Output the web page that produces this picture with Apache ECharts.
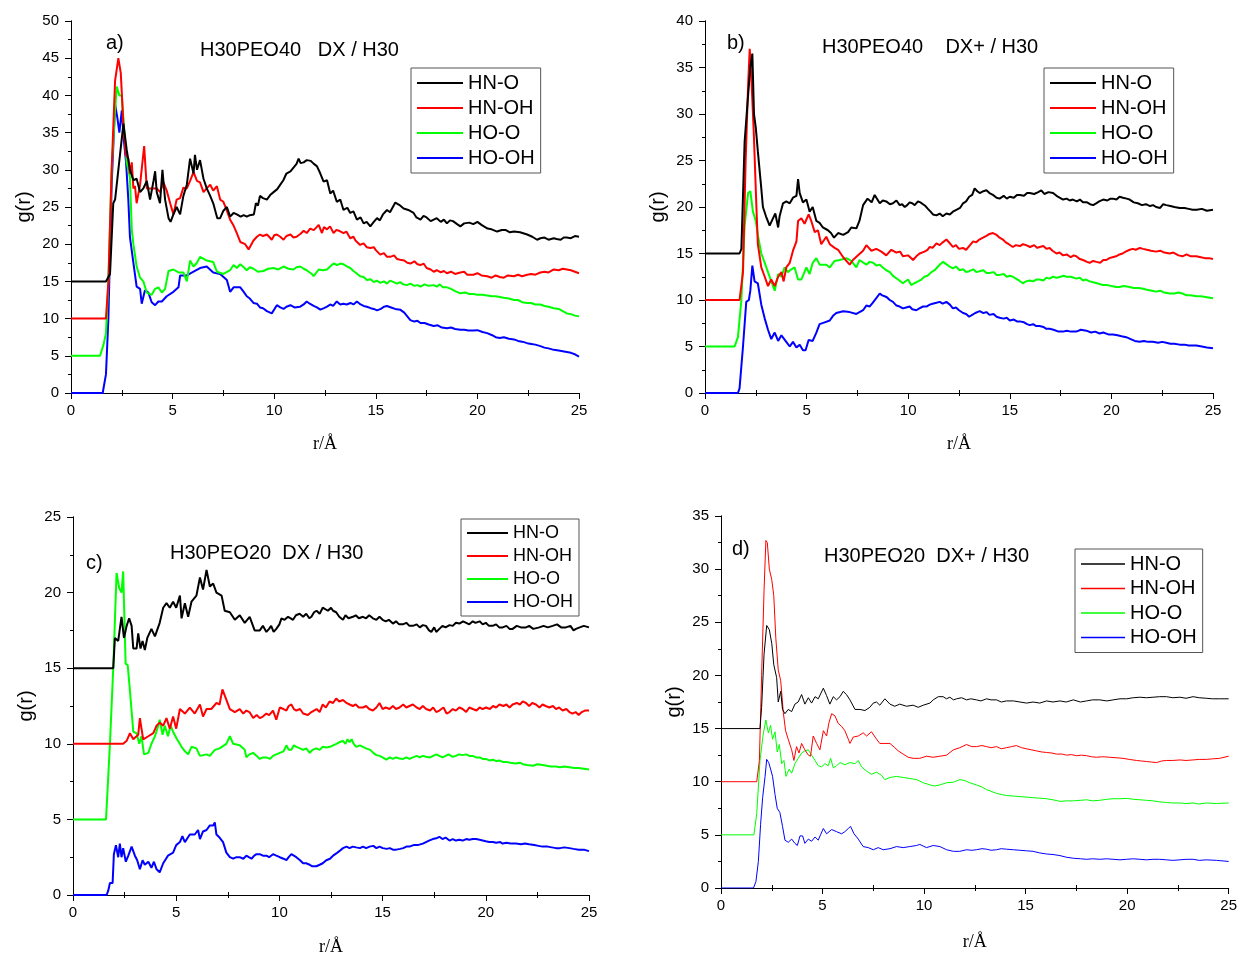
<!DOCTYPE html>
<html>
<head>
<meta charset="utf-8">
<script src="https://cdn.jsdelivr.net/npm/echarts@6/dist/echarts.min.js"></script>
<style>
html,body{margin:0;padding:0;background:#fff}
#main{width:1240px;height:957px}
</style>
</head>
<body>
<div id="main"></div>
<script>
// names / colours shared by every panel
var pairNames = ['HN-O', 'HN-OH', 'HO-O', 'HO-OH'];
var lineColors = ['#000000', '#ff0000', '#00ff00', '#0000ff'];
var panelTags = ['a)', 'b)', 'c)', 'd)'];
var panelTitles = ['H30PEO40   DX / H30', 'H30PEO40    DX+ / H30', 'H30PEO20  DX / H30', 'H30PEO20  DX+ / H30'];
var yMax = [50, 40, 25, 35];
var xMax = 25;

// a) H30PEO40 DX / H30   [r, g(r)]
var aHNO = [[0,15],[1.72,15],[1.92,16],[2.08,25.5],[2.17,26],[2.33,30],[2.58,36.2],[2.74,32.7],[2.9,30],[3.07,28.6],[3.23,28.8],[3.4,27],[3.56,27.5],[3.73,28.5],[3.89,26],[4.06,28.5],[4.14,29.8],[4.22,27],[4.38,25.5],[4.5,30],[4.63,26],[4.8,23.5],[4.9,23],[5.04,24],[5.2,25],[5.37,24],[5.53,26.5],[5.7,28],[5.86,31.5],[6.03,29.5],[6.1,32],[6.2,30],[6.35,31.3],[6.52,28.8],[6.68,27.5],[6.85,26.5],[7.0,25.5],[7.2,23.5],[7.34,23.5],[7.5,24.5],[7.67,25],[7.83,23.7],[8.0,24.2],[8.16,24],[8.35,23.7],[8.5,23.9],[8.65,23.7],[8.8,23.9],[9.0,24],[9.1,25.5],[9.2,25.2],[9.3,26.5],[9.45,26.2],[9.64,26],[9.8,26.6],[9.97,27],[10.15,27.4],[10.3,28],[10.45,28.6],[10.6,29.5],[10.8,29.8],[10.95,30.3],[11.1,30.8],[11.2,31.5],[11.3,30.9],[11.45,31],[11.6,31.3],[11.8,31.2],[11.95,30.8],[12.1,30.5],[12.27,29.5],[12.43,28.4],[12.6,28.6],[12.76,26.8],[12.9,27.2],[13.08,25.7],[13.25,26],[13.41,24.6],[13.6,24.9],[13.74,24.2],[13.9,24.4],[14.07,23.3],[14.25,23.6],[14.4,22.8],[14.55,23.0],[14.73,22.4],[14.9,23.0],[15.06,23.5],[15.2,23.2],[15.35,24.0],[15.55,24.6],[15.7,24.3],[15.96,25.6],[16.15,25.3],[16.37,24.8],[16.6,24.6],[16.86,24.2],[17.0,23.6],[17.2,23.3],[17.35,23.8],[17.5,23.6],[17.7,23.1],[17.85,23.3],[18.0,23.5],[18.2,23.0],[18.35,23.3],[18.5,22.8],[18.65,23.2],[18.8,23.1],[19.0,22.7],[19.16,22.4],[19.35,22.8],[19.6,22.9],[19.8,22.7],[20.0,23.0],[20.2,22.6],[20.5,22.1],[20.7,22.0],[20.97,21.7],[21.2,21.9],[21.4,21.9],[21.6,21.6],[21.8,21.7],[22.1,21.6],[22.45,21.3],[22.7,21.0],[22.94,20.6],[23.1,20.8],[23.3,20.9],[23.5,20.6],[23.76,20.8],[23.9,20.7],[24.1,20.6],[24.25,20.9],[24.4,20.9],[24.6,20.8],[24.8,21.1],[25,21.0]];
var aHNOH = [[0,10],[1.72,10],[1.84,15],[2.0,30],[2.17,42],[2.33,45],[2.45,43],[2.58,36],[2.7,32],[2.82,31.5],[2.9,29.5],[2.99,31],[3.07,27.5],[3.15,27.8],[3.23,25.5],[3.4,28],[3.48,28],[3.6,33.2],[3.73,27.5],[3.89,27.5],[4.06,27.5],[4.22,27.5],[4.38,27],[4.55,28.3],[4.71,27.2],[4.88,25.5],[5.04,24],[5.2,26],[5.37,26.2],[5.53,27.6],[5.7,27.5],[5.86,28.5],[6.03,29.7],[6.2,28.5],[6.35,28.3],[6.52,27],[6.68,27.5],[6.85,28],[7.0,27.2],[7.18,27.8],[7.34,26],[7.5,25.7],[7.67,24.5],[7.83,23.3],[8.0,22.5],[8.16,21.5],[8.33,20.3],[8.57,20],[8.74,19.3],[8.98,20.5],[9.15,21.0],[9.3,21.3],[9.45,21.1],[9.64,21.3],[9.75,21.0],[9.88,20.6],[10.0,21.2],[10.13,21.3],[10.3,21.0],[10.46,20.6],[10.6,21.1],[10.8,21.3],[10.95,20.9],[11.1,21.0],[11.3,21.4],[11.45,21.8],[11.6,21.5],[11.77,22.1],[11.95,21.9],[12.19,22.6],[12.35,21.5],[12.45,22.3],[12.6,22.0],[12.75,22.4],[12.92,21.5],[13.05,21.9],[13.2,21.8],[13.41,21.5],[13.55,21.7],[13.74,20.8],[13.9,21.0],[14.0,20.5],[14.23,19.9],[14.4,20.1],[14.55,19.6],[14.73,19.5],[14.9,19.6],[15.0,19.2],[15.22,18.6],[15.4,18.8],[15.55,18.3],[15.71,18.3],[15.9,18.5],[16.05,18.0],[16.2,17.9],[16.4,17.8],[16.55,17.5],[16.7,17.4],[16.9,17.7],[17.05,17.3],[17.2,17.2],[17.35,17.4],[17.5,16.8],[17.7,16.6],[17.85,16.3],[18.0,16.5],[18.2,16.2],[18.35,16.4],[18.5,16.1],[18.7,16.3],[18.9,16.0],[19.16,16.2],[19.35,16.3],[19.5,15.9],[19.8,15.9],[20.0,16.1],[20.2,15.8],[20.48,15.7],[20.7,15.5],[20.9,15.8],[21.1,15.6],[21.3,15.5],[21.5,15.8],[21.8,15.7],[22.0,15.9],[22.2,15.7],[22.45,15.9],[22.65,16.0],[22.85,15.9],[23.1,16.2],[23.3,16.3],[23.5,16.2],[23.76,16.6],[24.0,16.5],[24.2,16.7],[24.4,16.6],[24.6,16.5],[24.8,16.3],[25,16.1]];
var aHOO = [[0,5],[1.43,5],[1.6,6.5],[1.72,8],[1.84,15],[2.0,30],[2.17,38],[2.25,41.2],[2.38,40],[2.5,40],[2.6,36],[2.74,31],[2.9,29],[2.99,22],[3.07,20],[3.23,17],[3.4,15.5],[3.56,15],[3.73,13.5],[3.97,13.2],[4.14,14],[4.3,14.2],[4.47,13.5],[4.63,14],[4.8,16.4],[5.04,16.6],[5.29,16.2],[5.53,16.2],[5.7,15],[5.86,17.8],[6.03,17],[6.2,17.5],[6.35,18.3],[6.68,17.8],[7.0,17.6],[7.18,16.3],[7.5,16],[7.83,16.5],[8.0,17.2],[8.16,16.8],[8.33,17.3],[8.5,16.9],[8.65,16.5],[8.8,16.9],[8.98,16.7],[9.2,16.3],[9.47,16.4],[9.7,16.7],[9.97,16.8],[10.2,16.6],[10.46,17.0],[10.7,16.7],[10.95,16.6],[11.1,16.9],[11.28,17.0],[11.45,16.7],[11.6,16.5],[11.85,16],[11.94,15.7],[12.19,16.6],[12.4,16.5],[12.6,16.6],[12.75,17.0],[12.92,17.4],[13.1,17.2],[13.25,17.4],[13.41,17.3],[13.6,17.0],[13.74,16.8],[13.9,16.4],[14.05,16.1],[14.23,15.7],[14.4,15.6],[14.56,15.2],[14.75,15.3],[14.9,14.9],[15.05,15.1],[15.22,14.8],[15.4,15.0],[15.55,14.7],[15.7,15.1],[15.88,14.9],[16.05,14.7],[16.2,14.9],[16.35,14.6],[16.53,14.5],[16.7,14.7],[16.9,14.4],[17.05,14.5],[17.2,14.3],[17.4,14.6],[17.6,14.4],[17.85,14.5],[18.0,14.3],[18.15,14.6],[18.3,14.2],[18.5,14.2],[18.7,14.0],[18.9,13.7],[19.16,13.4],[19.4,13.5],[19.6,13.3],[19.8,13.3],[20.0,13.2],[20.25,13.2],[20.48,13.1],[20.7,13.0],[20.9,13.0],[21.1,12.9],[21.3,12.8],[21.55,12.7],[21.8,12.5],[22.0,12.5],[22.2,12.2],[22.45,12.1],[22.65,12.1],[22.85,11.9],[23.1,11.9],[23.3,11.7],[23.5,11.6],[23.76,11.4],[24.0,11.3],[24.2,11.0],[24.4,10.7],[24.6,10.6],[24.8,10.4],[25,10.3]];
var aHOOH = [[0,0],[1.56,0],[1.72,2.5],[1.84,10],[2.0,28],[2.17,38.8],[2.28,37],[2.38,35],[2.5,38],[2.6,34],[2.71,31],[2.82,26],[2.9,21],[3.07,17.5],[3.23,14.3],[3.4,14],[3.48,12],[3.64,13.8],[3.81,13.5],[3.97,12.2],[4.14,11.8],[4.3,12.3],[4.47,12.3],[4.71,13],[5.04,13.6],[5.29,14.2],[5.37,15.8],[5.7,15.8],[6.03,16.3],[6.35,16.8],[6.68,17.0],[7.0,16.2],[7.34,16],[7.67,15.2],[7.83,13.6],[8.0,14.2],[8.33,14.2],[8.5,13.6],[8.65,13],[8.8,12.7],[8.98,12.1],[9.15,12.0],[9.3,11.5],[9.45,11.4],[9.64,11.0],[9.88,10.7],[10.13,11.8],[10.3,11.5],[10.46,11.3],[10.6,11.6],[10.8,11.8],[11.0,11.5],[11.28,11.6],[11.45,11.9],[11.6,12.3],[11.75,12.0],[11.94,11.7],[12.1,11.5],[12.27,11.2],[12.45,11.4],[12.6,11.6],[12.76,11.9],[12.9,11.7],[13.08,12.3],[13.25,11.9],[13.4,12.0],[13.57,11.9],[13.75,12.1],[13.9,11.9],[14.07,12.3],[14.25,11.9],[14.4,11.7],[14.56,11.6],[14.75,11.4],[14.9,11.3],[15.06,11.1],[15.25,11.3],[15.4,11.6],[15.55,11.7],[15.75,11.5],[15.95,11.3],[16.2,11.2],[16.4,10.8],[16.55,10.3],[16.7,9.8],[16.9,9.6],[17.05,9.7],[17.2,9.4],[17.4,9.4],[17.6,9.2],[17.85,9.0],[18.05,9.1],[18.25,8.8],[18.5,8.7],[18.7,8.8],[18.9,8.6],[19.16,8.5],[19.35,8.5],[19.55,8.4],[19.8,8.4],[20.0,8.45],[20.25,8.2],[20.48,8.05],[20.7,7.8],[20.9,7.5],[21.1,7.4],[21.3,7.5],[21.55,7.3],[21.8,7.2],[22.0,7.0],[22.2,6.9],[22.45,6.7],[22.65,6.6],[22.85,6.5],[23.1,6.3],[23.3,6.1],[23.5,6.0],[23.76,5.8],[24.0,5.7],[24.2,5.6],[24.4,5.5],[24.6,5.4],[24.8,5.2],[25,4.9]];

// b) H30PEO40 DX+ / H30
var bHNO = [[0,15],[1.7,15],[1.79,15.5],[1.95,27],[2.12,32],[2.23,35],[2.33,36.5],[2.41,30],[2.5,28.5],[2.6,26],[2.77,22],[2.85,20],[3.0,19],[3.18,18],[3.35,18.8],[3.46,19.3],[3.6,17.8],[3.67,19],[3.84,20.4],[4.0,20.6],[4.17,20.4],[4.33,21],[4.5,21.2],[4.58,23],[4.66,21.5],[4.82,20.5],[4.99,20.8],[5.15,19.5],[5.3,20],[5.48,18.5],[5.64,18.3],[5.8,17.8],[6.05,17.5],[6.2,17.2],[6.35,16.7],[6.55,17.2],[6.8,17],[7.04,17.3],[7.2,17.8],[7.45,17.7],[7.6,18.5],[7.78,20.2],[8.0,20.9],[8.2,20.5],[8.35,21.3],[8.6,20.4],[8.75,20.7],[8.92,20.6],[9.1,20.3],[9.25,20.4],[9.42,20.7],[9.58,20.2],[9.7,20.3],[9.83,20.0],[9.95,20.2],[10.07,20.5],[10.2,20.4],[10.32,20.2],[10.48,20.6],[10.6,20.5],[10.73,20.3],[10.85,20.1],[10.97,19.8],[11.1,19.5],[11.22,19.2],[11.39,19.1],[11.55,19.3],[11.7,19.0],[11.88,19.3],[12.05,19.2],[12.2,19.5],[12.37,19.7],[12.55,19.9],[12.7,20.4],[12.85,20.6],[13.0,21.1],[13.15,21.3],[13.27,22.0],[13.4,21.7],[13.52,21.5],[13.7,21.7],[13.85,21.8],[14.0,21.5],[14.17,21.3],[14.35,21.0],[14.5,20.9],[14.7,21.2],[14.85,20.9],[15.0,21.1],[15.2,21.0],[15.35,21.3],[15.49,21.3],[15.7,21.2],[15.85,21.5],[15.98,21.5],[16.2,21.4],[16.4,21.6],[16.55,21.8],[16.7,21.4],[16.9,21.6],[17.13,21.5],[17.3,21.2],[17.45,21.0],[17.62,20.8],[17.8,20.9],[17.95,20.7],[18.1,20.8],[18.3,20.6],[18.45,20.8],[18.6,20.5],[18.8,20.5],[18.95,20.3],[19.1,20.2],[19.25,20.4],[19.4,20.6],[19.6,20.8],[19.8,20.7],[19.95,20.9],[20.08,20.9],[20.25,20.8],[20.4,21.1],[20.57,21.0],[20.75,20.9],[20.9,20.8],[21.1,20.5],[21.3,20.4],[21.5,20.2],[21.7,20.3],[21.9,20.1],[22.05,20.2],[22.2,20.0],[22.4,19.9],[22.55,20.3],[22.7,20.2],[22.9,20.1],[23.1,20.0],[23.36,19.9],[23.6,19.9],[23.8,19.8],[24.0,19.7],[24.2,19.7],[24.45,19.8],[24.7,19.6],[25,19.7]];
var bHNOH = [[0,10],[1.7,10],[1.87,13],[2.0,25],[2.12,33],[2.2,37],[2.28,34],[2.4,28],[2.53,20],[2.6,16],[2.77,13.5],[2.94,12.5],[3.1,11.5],[3.26,12.2],[3.43,11.5],[3.6,12.5],[3.76,13],[3.87,12],[4.0,13.5],[4.17,14],[4.33,15.3],[4.5,16.3],[4.58,18.5],[4.74,18.8],[4.9,18.2],[5.1,19.2],[5.23,18.5],[5.4,17.3],[5.56,17.5],[5.72,16],[5.97,16.8],[6.14,16],[6.38,15.6],[6.55,15.4],[6.8,14.6],[7.12,13.8],[7.28,14.3],[7.53,14.8],[7.78,15.3],[7.94,15.9],[8.19,15.3],[8.43,15.5],[8.68,15.2],[8.92,14.8],[9.17,15.4],[9.42,15.1],[9.6,15.2],[9.74,14.7],[9.99,14.8],[10.1,14.6],[10.24,14.3],[10.4,14.7],[10.56,15.0],[10.8,15.2],[10.95,15.4],[11.06,15.7],[11.2,15.6],[11.39,16.1],[11.55,15.9],[11.7,16.2],[11.88,16.5],[12.05,16.1],[12.2,15.7],[12.35,15.9],[12.5,15.5],[12.7,15.6],[12.85,15.4],[13.0,15.8],[13.2,16.3],[13.35,16.2],[13.5,16.5],[13.68,16.7],[13.85,16.9],[14.0,17.1],[14.17,17.2],[14.35,17.0],[14.5,16.7],[14.66,16.5],[14.8,16.2],[14.95,16.0],[15.15,15.7],[15.3,15.9],[15.5,15.8],[15.65,16.0],[15.8,15.9],[16.0,15.7],[16.2,15.9],[16.35,15.6],[16.47,15.7],[16.65,15.8],[16.8,15.5],[16.96,15.6],[17.1,15.3],[17.3,15.0],[17.45,15.1],[17.62,14.8],[17.8,14.9],[18.0,14.6],[18.15,14.8],[18.27,14.7],[18.45,14.4],[18.6,14.3],[18.8,14.1],[18.93,14.0],[19.1,14.2],[19.26,14.1],[19.45,14.0],[19.6,14.3],[19.75,14.3],[19.9,14.5],[20.05,14.6],[20.23,14.7],[20.4,14.9],[20.55,15.0],[20.7,15.2],[20.9,15.4],[21.05,15.5],[21.2,15.4],[21.4,15.6],[21.56,15.5],[21.75,15.4],[21.95,15.3],[22.2,15.2],[22.4,15.3],[22.6,15.1],[22.87,15.0],[23.05,15.1],[23.3,14.8],[23.5,14.7],[23.7,14.9],[23.9,14.7],[24.18,14.7],[24.4,14.6],[24.6,14.5],[24.8,14.5],[25,14.4]];
var bHOO = [[0,5],[1.46,5],[1.62,6],[1.79,10],[1.95,18],[2.12,21.5],[2.23,21.7],[2.36,19.5],[2.5,18.5],[2.6,17],[2.77,15],[2.94,14],[3.1,13],[3.26,12],[3.43,11],[3.6,12.8],[3.76,12.5],[3.92,13.5],[4.08,13],[4.25,13.3],[4.41,13.5],[4.58,12.2],[4.74,12.2],[4.82,12],[4.99,13.5],[5.15,12.8],[5.3,14],[5.48,14.5],[5.64,13.8],[5.97,13.8],[6.14,13.5],[6.38,14.2],[6.63,14.3],[6.96,14.5],[7.2,14.2],[7.45,13.5],[7.6,14.3],[7.94,13.8],[8.1,14.1],[8.27,14.0],[8.45,13.7],[8.6,13.8],[8.75,13.5],[8.92,13.2],[9.1,13.0],[9.25,12.6],[9.5,12.2],[9.74,11.8],[9.99,12.2],[10.15,11.6],[10.3,11.8],[10.48,12.0],[10.65,12.2],[10.8,12.5],[10.95,12.6],[11.14,13],[11.3,13.2],[11.47,13.6],[11.6,13.9],[11.72,14.1],[11.9,13.8],[12.04,13.6],[12.2,13.4],[12.35,13.6],[12.53,13.2],[12.7,13.3],[12.85,13.0],[13.0,13.1],[13.2,13.3],[13.35,13.0],[13.52,13.1],[13.7,13.2],[13.85,12.9],[14.0,12.9],[14.2,13.0],[14.35,12.7],[14.5,12.7],[14.7,12.8],[14.85,12.5],[15.0,12.6],[15.15,12.5],[15.3,12.3],[15.45,12.1],[15.64,11.8],[15.8,12.0],[15.98,12.1],[16.15,12.0],[16.3,12.2],[16.47,12.2],[16.65,12.1],[16.8,12.4],[16.95,12.3],[17.13,12.5],[17.3,12.4],[17.5,12.5],[17.65,12.6],[17.79,12.5],[18.0,12.5],[18.15,12.4],[18.27,12.3],[18.45,12.4],[18.6,12.1],[18.75,12.2],[18.93,12.0],[19.1,11.9],[19.3,11.8],[19.45,11.7],[19.6,11.6],[19.8,11.6],[20.0,11.5],[20.23,11.4],[20.4,11.4],[20.6,11.5],[20.9,11.4],[21.1,11.3],[21.35,11.3],[21.56,11.2],[21.75,11.1],[22.0,11.0],[22.2,10.9],[22.4,11.0],[22.6,10.8],[22.87,10.7],[23.1,10.7],[23.3,10.8],[23.5,10.7],[23.7,10.5],[23.9,10.5],[24.18,10.4],[24.4,10.4],[24.7,10.3],[25,10.2]];
var bHOOH = [[0,0],[1.62,0],[1.7,0.5],[1.87,5],[2.03,9.8],[2.16,10],[2.23,11],[2.33,13.7],[2.44,12],[2.6,11.8],[2.77,9.5],[2.94,8],[3.1,6.8],[3.26,5.8],[3.43,6.5],[3.6,5.6],[3.76,6.2],[4.0,5.5],[4.17,5.0],[4.33,5.5],[4.5,4.9],[4.66,5.2],[4.82,4.6],[4.95,4.6],[5.1,5.7],[5.3,5.6],[5.48,6.5],[5.64,7.4],[5.89,7.6],[6.14,7.8],[6.3,8.3],[6.46,8.6],[6.8,8.8],[7.12,8.7],[7.45,8.5],[7.78,8.9],[7.94,9.4],[8.1,9.3],[8.25,9.7],[8.43,10.2],[8.6,10.7],[8.72,10.5],[8.84,10.4],[8.95,10.3],[9.09,10.0],[9.25,9.8],[9.42,9.4],[9.58,9.3],[9.74,9.1],[9.9,9.2],[10.07,9.3],[10.2,9.0],[10.4,8.9],[10.55,9.1],[10.73,9.3],[10.9,9.3],[11.06,9.5],[11.2,9.6],[11.39,9.7],[11.55,9.8],[11.7,9.6],[11.88,9.8],[12.05,9.5],[12.2,9.1],[12.35,9.2],[12.5,8.9],[12.7,8.6],[12.85,8.5],[13.0,8.2],[13.15,8.4],[13.3,8.6],[13.52,8.8],[13.7,8.6],[13.85,8.7],[14.0,8.4],[14.2,8.5],[14.35,8.2],[14.5,8.1],[14.7,8.0],[14.85,8.1],[15.0,7.8],[15.2,7.9],[15.35,7.7],[15.49,7.7],[15.7,7.6],[15.85,7.4],[15.98,7.3],[16.15,7.4],[16.3,7.2],[16.47,7.2],[16.65,7.1],[16.8,6.9],[16.96,6.9],[17.15,6.8],[17.4,6.6],[17.62,6.6],[17.8,6.7],[18.0,6.6],[18.27,6.6],[18.5,6.8],[18.77,6.7],[19.0,6.5],[19.2,6.6],[19.42,6.4],[19.6,6.5],[19.85,6.3],[20.08,6.3],[20.3,6.2],[20.5,6.1],[20.73,6.0],[20.95,5.8],[21.15,5.6],[21.39,5.5],[21.6,5.6],[21.8,5.5],[22.04,5.5],[22.3,5.4],[22.5,5.5],[22.7,5.4],[22.9,5.3],[23.1,5.3],[23.36,5.2],[23.6,5.2],[23.8,5.1],[24.0,5.1],[24.18,5.1],[24.45,5.0],[24.7,4.9],[25,4.8]];

// c) H30PEO20 DX / H30
var cHNO = [[0,15],[1.95,15],[2.03,17],[2.19,16.8],[2.35,18.4],[2.47,17],[2.6,17.8],[2.72,18.3],[2.84,17.8],[2.92,16.3],[3.08,16.3],[3.16,17.3],[3.27,16.3],[3.37,16.8],[3.48,16.2],[3.6,17.0],[3.8,17.6],[3.97,17.1],[4.2,18],[4.37,19],[4.53,19.3],[4.69,19.0],[4.85,19.4],[5.0,19.0],[5.18,19.8],[5.26,18.3],[5.42,19.3],[5.58,18.4],[5.74,19.4],[5.98,19.8],[6.15,21.0],[6.3,20.2],[6.47,21.5],[6.63,20.4],[6.79,20.6],[6.95,20.0],[7.2,19.8],[7.35,18.8],[7.6,18.7],[7.84,18.2],[8.08,18.5],[8.32,18.0],[8.56,18.4],[8.8,17.5],[9.05,17.5],[9.2,17.8],[9.37,17.4],[9.5,17.6],[9.6,17.8],[9.72,17.4],[9.85,17.6],[10.0,17.9],[10.1,18.3],[10.25,18.2],[10.42,18.4],[10.55,18.3],[10.66,18.2],[10.8,18.5],[10.98,18.6],[11.15,18.4],[11.3,18.6],[11.45,18.3],[11.55,18.4],[11.68,18.7],[11.8,18.8],[11.95,18.6],[12.1,19.0],[12.19,19.0],[12.35,18.8],[12.5,19.0],[12.6,18.8],[12.75,18.7],[12.9,18.4],[13.08,18.2],[13.2,18.5],[13.35,18.3],[13.56,18.4],[13.7,18.5],[13.85,18.3],[14.05,18.4],[14.2,18.3],[14.35,18.5],[14.53,18.3],[14.7,18.2],[14.85,18.4],[15.0,18.2],[15.15,18.1],[15.3,18.2],[15.5,17.95],[15.65,18.1],[15.8,17.9],[15.98,17.9],[16.15,18.0],[16.3,17.8],[16.47,17.8],[16.65,17.9],[16.8,17.7],[16.95,17.85],[17.1,17.8],[17.25,17.5],[17.36,17.4],[17.5,17.7],[17.6,17.4],[17.75,17.6],[17.9,17.8],[18.05,17.7],[18.24,17.85],[18.4,17.8],[18.55,18.0],[18.72,17.95],[18.9,18.1],[19.05,18.0],[19.2,17.9],[19.37,18.1],[19.5,18.0],[19.7,18.1],[19.85,17.9],[20.0,18.0],[20.15,17.8],[20.33,17.8],[20.5,17.9],[20.65,17.7],[20.82,17.7],[21.0,17.8],[21.15,17.6],[21.3,17.6],[21.5,17.8],[21.7,17.7],[21.95,17.7],[22.1,17.8],[22.3,17.6],[22.59,17.7],[22.8,17.8],[23.0,17.7],[23.24,17.8],[23.45,17.9],[23.65,17.7],[23.88,17.7],[24.1,17.8],[24.25,17.5],[24.37,17.6],[24.55,17.7],[24.75,17.8],[25,17.7]];
var cHNOH = [[0,10],[2.43,10],[2.6,10.2],[2.76,10.7],[2.92,10.3],[3.16,10.6],[3.24,11.7],[3.4,10.3],[3.65,10.5],[3.89,10.7],[4.05,11.2],[4.2,11.4],[4.37,11.2],[4.53,11.7],[4.69,11.0],[4.85,11.8],[5.0,11.0],[5.18,12.3],[5.42,12.0],[5.66,12.4],[5.9,12.0],[6.15,12.6],[6.3,11.8],[6.47,12.3],[6.7,12.3],[6.95,12.7],[7.1,12.6],[7.24,13.6],[7.35,13.2],[7.6,12.3],[7.84,12.1],[8.08,12.3],[8.25,12.0],[8.4,12.2],[8.55,12.1],[8.73,11.7],[8.9,11.9],[9.05,11.7],[9.2,11.8],[9.37,12.0],[9.5,11.9],[9.69,12.2],[9.85,11.6],[10.02,12.4],[10.2,12.3],[10.34,12.2],[10.45,12.5],[10.58,12.6],[10.7,12.3],[10.82,12.2],[11.0,12.3],[11.15,12.0],[11.38,11.9],[11.55,12.1],[11.8,12.3],[11.95,12.1],[12.1,12.6],[12.25,12.4],[12.43,12.8],[12.6,12.7],[12.75,13.0],[12.9,12.8],[13.08,12.9],[13.25,12.7],[13.4,12.6],[13.56,12.5],[13.7,12.6],[13.85,12.4],[14.05,12.4],[14.2,12.5],[14.35,12.3],[14.53,12.2],[14.7,12.4],[14.85,12.7],[15.0,12.3],[15.15,12.4],[15.34,12.3],[15.5,12.5],[15.65,12.3],[15.82,12.4],[16.0,12.6],[16.15,12.4],[16.3,12.5],[16.47,12.6],[16.65,12.4],[16.8,12.3],[16.95,12.5],[17.11,12.3],[17.3,12.2],[17.45,12.4],[17.6,12.1],[17.75,12.2],[17.95,12.4],[18.1,12.0],[18.24,12.1],[18.4,12.3],[18.55,12.2],[18.72,12.4],[18.88,12.3],[19.05,12.1],[19.2,12.4],[19.37,12.3],[19.55,12.2],[19.7,12.4],[19.85,12.3],[20.01,12.4],[20.2,12.3],[20.35,12.5],[20.5,12.4],[20.66,12.6],[20.85,12.5],[21.0,12.6],[21.15,12.4],[21.3,12.6],[21.5,12.7],[21.65,12.6],[21.79,12.8],[21.95,12.7],[22.1,12.5],[22.25,12.7],[22.43,12.6],[22.6,12.4],[22.75,12.6],[22.9,12.5],[23.08,12.4],[23.25,12.5],[23.4,12.3],[23.55,12.4],[23.72,12.2],[23.9,12.3],[24.05,12.1],[24.2,12.0],[24.35,12.1],[24.5,11.9],[24.65,12.1],[24.8,12.2],[25,12.2]];
var cHOO = [[0,5],[1.6,5],[1.79,10],[1.95,15],[2.11,21.3],[2.24,20.3],[2.35,20.0],[2.43,21.4],[2.55,15.3],[2.65,15.2],[2.76,13.5],[2.92,10.8],[3.08,10.7],[3.21,10.0],[3.32,10.5],[3.44,9.3],[3.65,9.4],[3.8,10.0],[3.97,10.5],[4.13,11.2],[4.2,11.6],[4.34,10.6],[4.45,11.2],[4.6,10.5],[4.73,11.2],[4.85,10.8],[5.0,10.4],[5.26,9.8],[5.42,9.5],[5.58,9.3],[5.74,9.8],[5.98,9.7],[6.15,9.2],[6.47,9.3],[6.63,9.2],[6.87,9.6],[7.1,9.7],[7.43,10.0],[7.6,10.5],[7.76,10.0],[8.08,9.9],[8.32,9.6],[8.4,9.1],[8.55,9.3],[8.73,9.4],[8.9,9.2],[9.05,9.0],[9.2,9.1],[9.37,9.1],[9.55,9.0],[9.69,9.2],[9.85,9.3],[10.02,9.4],[10.2,9.5],[10.34,9.9],[10.45,9.6],[10.58,9.6],[10.7,9.9],[10.82,9.8],[11.0,9.7],[11.15,9.6],[11.3,9.7],[11.47,9.4],[11.6,9.6],[11.79,9.7],[11.95,9.6],[12.1,9.8],[12.27,9.75],[12.45,9.8],[12.6,9.9],[12.76,10.0],[12.9,10.1],[13.08,10.2],[13.2,10.0],[13.3,10.3],[13.4,10.1],[13.5,10.3],[13.6,10.0],[13.72,9.8],[13.9,9.9],[14.05,9.8],[14.2,9.7],[14.4,9.6],[14.55,9.4],[14.7,9.25],[14.85,9.2],[15.0,9.1],[15.18,8.96],[15.35,9.1],[15.5,9.0],[15.65,9.1],[15.82,9.03],[16.0,9.0],[16.15,9.1],[16.3,9.0],[16.47,9.1],[16.65,9.2],[16.8,9.1],[16.95,9.2],[17.11,9.14],[17.3,9.1],[17.45,9.2],[17.6,9.3],[17.75,9.2],[17.9,9.1],[18.05,9.2],[18.2,9.3],[18.4,9.14],[18.55,9.2],[18.7,9.3],[18.88,9.25],[19.05,9.3],[19.2,9.2],[19.37,9.2],[19.53,9.1],[19.7,9.1],[19.85,9.0],[20.0,9.0],[20.17,8.9],[20.35,8.95],[20.5,8.85],[20.65,8.9],[20.82,8.8],[21.0,8.8],[21.2,8.75],[21.46,8.7],[21.65,8.75],[21.8,8.65],[22.0,8.6],[22.3,8.55],[22.5,8.65],[22.75,8.6],[22.95,8.55],[23.15,8.5],[23.4,8.5],[23.6,8.45],[23.8,8.5],[24.05,8.45],[24.3,8.4],[24.5,8.4],[24.75,8.35],[25,8.3]];
var cHOOH = [[0,0],[1.63,0],[1.71,0.3],[1.79,0.8],[1.92,0.8],[1.98,2.7],[2.08,3.3],[2.19,2.5],[2.27,3.4],[2.35,2.5],[2.43,3.1],[2.56,2.2],[2.68,2.6],[2.84,3.2],[3.0,2.6],[3.11,2.3],[3.24,1.7],[3.37,2.3],[3.48,2.0],[3.65,2.2],[3.8,1.8],[3.92,2.2],[4.05,1.7],[4.2,1.5],[4.37,2.1],[4.6,2.6],[4.85,2.8],[5.0,3.3],[5.18,3.5],[5.3,3.9],[5.42,3.5],[5.66,4.0],[5.9,4.0],[6.06,4.3],[6.15,3.7],[6.3,4.2],[6.47,4.3],[6.63,4.6],[6.79,4.6],[6.87,4.8],[6.95,4.0],[7.1,3.8],[7.27,3.5],[7.43,2.8],[7.6,2.5],[7.76,2.4],[7.92,2.5],[8.08,2.5],[8.25,2.4],[8.4,2.6],[8.52,2.5],[8.65,2.4],[8.78,2.6],[8.89,2.7],[9.05,2.7],[9.2,2.6],[9.37,2.6],[9.5,2.5],[9.69,2.7],[9.85,2.6],[10.02,2.5],[10.2,2.4],[10.34,2.3],[10.45,2.5],[10.58,2.7],[10.7,2.6],[10.82,2.5],[11.0,2.3],[11.15,2.1],[11.3,2.1],[11.47,2.0],[11.6,1.9],[11.79,1.9],[11.95,2.0],[12.1,2.1],[12.27,2.3],[12.45,2.4],[12.6,2.6],[12.76,2.75],[12.9,2.9],[13.08,3.1],[13.25,3.2],[13.4,3.1],[13.55,3.2],[13.72,3.15],[13.9,3.1],[14.05,3.2],[14.2,3.1],[14.37,3.2],[14.55,3.25],[14.7,3.1],[14.85,3.2],[15.01,3.1],[15.2,3.05],[15.35,3.1],[15.5,3.0],[15.66,3.0],[15.85,3.05],[16.0,3.1],[16.15,3.2],[16.3,3.2],[16.5,3.3],[16.7,3.3],[16.95,3.4],[17.1,3.5],[17.25,3.6],[17.43,3.7],[17.6,3.75],[17.75,3.85],[17.9,3.7],[18.05,3.8],[18.24,3.6],[18.4,3.7],[18.55,3.6],[18.72,3.65],[18.88,3.6],[19.05,3.7],[19.2,3.65],[19.37,3.7],[19.53,3.7],[19.7,3.65],[19.85,3.6],[20.0,3.55],[20.17,3.5],[20.35,3.5],[20.5,3.45],[20.7,3.5],[20.82,3.4],[21.0,3.45],[21.2,3.4],[21.46,3.4],[21.7,3.35],[21.9,3.4],[22.1,3.35],[22.35,3.3],[22.55,3.25],[22.75,3.2],[23.0,3.2],[23.2,3.15],[23.4,3.1],[23.6,3.1],[23.8,3.15],[24.05,3.1],[24.25,3.05],[24.5,3.0],[24.75,3.0],[25,2.9]];

// d) H30PEO20 DX+ / H30
var dHNO = [[0,15],[1.92,15],[2.0,17],[2.12,22],[2.25,24.7],[2.38,24.3],[2.5,23],[2.6,21],[2.74,19.8],[2.82,17.5],[2.94,18.5],[3.03,16.8],[3.15,16.4],[3.31,16.8],[3.48,16.6],[3.64,17.3],[3.8,17.5],[3.97,18.2],[4.13,17.3],[4.3,17.9],[4.46,17.4],[4.63,18.0],[4.79,17.8],[5.04,18.8],[5.2,18.1],[5.36,17.3],[5.53,18.0],[5.69,17.7],[5.86,18.0],[6.02,18.5],[6.18,18.2],[6.35,17.7],[6.6,16.8],[6.84,16.8],[7.09,16.7],[7.33,17.0],[7.5,17.4],[7.66,17.5],[7.82,17.2],[8.07,17.8],[8.32,17.3],[8.56,17.1],[8.8,17.3],[9.14,17.1],[9.46,17.2],[9.71,17.0],[9.96,17.2],[10.29,17.4],[10.45,17.7],[10.7,18.0],[10.94,18.0],[11.1,17.8],[11.27,17.95],[11.45,17.7],[11.6,17.8],[11.85,17.9],[12.09,17.7],[12.3,17.8],[12.58,17.7],[12.8,17.6],[13.08,17.8],[13.3,17.7],[13.57,17.7],[13.8,17.5],[14.06,17.6],[14.4,17.6],[14.72,17.5],[15.05,17.4],[15.37,17.5],[15.7,17.4],[16.03,17.6],[16.35,17.5],[16.69,17.6],[17.0,17.5],[17.35,17.7],[17.7,17.5],[18.0,17.6],[18.3,17.7],[18.65,17.7],[19.0,17.6],[19.31,17.7],[19.65,17.8],[19.97,17.8],[20.3,17.9],[20.63,17.95],[20.95,17.9],[21.28,17.95],[21.6,18.0],[21.94,18.0],[22.25,17.9],[22.6,17.95],[22.9,17.85],[23.25,18.0],[23.55,17.9],[23.9,17.85],[24.2,17.8],[24.56,17.8],[25,17.8]];
var dHNOH = [[0,10],[1.76,10],[1.89,12],[2.0,20],[2.12,28],[2.21,32.7],[2.28,32.5],[2.38,30],[2.5,29],[2.6,27.5],[2.7,23.5],[2.82,20.5],[2.94,19.5],[3.07,16.5],[3.18,14.8],[3.31,14],[3.48,13],[3.59,12.0],[3.72,13.3],[3.84,12.7],[3.97,13.6],[4.13,13.0],[4.3,12.5],[4.41,12.4],[4.54,14.3],[4.71,13.6],[4.87,13.0],[5.04,14.8],[5.2,14.3],[5.31,15.5],[5.45,16.4],[5.61,16.2],[5.77,15.5],[5.94,15.2],[6.1,14.8],[6.27,14.0],[6.35,13.6],[6.51,14.2],[6.76,14.3],[7.0,14.6],[7.17,14.3],[7.41,14.7],[7.66,14.0],[7.82,13.6],[8.07,13.6],[8.32,13.6],[8.56,13.2],[8.73,12.9],[8.97,12.6],[9.22,12.3],[9.46,12.2],[9.79,12.2],[10.12,12.4],[10.45,12.3],[10.78,12.4],[11.11,12.5],[11.44,13.0],[11.76,13.2],[12.09,13.5],[12.35,13.3],[12.58,13.3],[12.85,13.4],[13.08,13.3],[13.3,13.2],[13.57,13.3],[13.8,13.1],[14.06,13.2],[14.3,13.3],[14.55,13.4],[14.8,13.2],[15.04,13.1],[15.3,13.0],[15.54,12.9],[15.8,12.8],[16.03,12.75],[16.3,12.7],[16.52,12.6],[16.8,12.6],[17.02,12.5],[17.25,12.55],[17.51,12.45],[17.75,12.5],[18.0,12.45],[18.25,12.35],[18.49,12.3],[18.8,12.35],[19.15,12.3],[19.5,12.25],[19.8,12.2],[20.1,12.1],[20.46,12.0],[20.7,11.95],[20.96,11.9],[21.2,11.85],[21.45,11.8],[21.7,11.95],[21.94,12.0],[22.25,12.0],[22.6,12.05],[22.9,12.0],[23.25,12.05],[23.55,12.1],[23.9,12.1],[24.2,12.15],[24.56,12.2],[25,12.4]];
var dHOO = [[0,5],[1.62,5],[1.76,7],[1.92,12],[2.08,14.5],[2.21,15.8],[2.33,14.6],[2.44,15.3],[2.54,14.0],[2.66,14.7],[2.77,12.8],[2.87,13.5],[2.99,11.7],[3.1,12.0],[3.2,10.5],[3.36,11.2],[3.48,10.8],[3.64,11.7],[3.8,12.2],[3.97,12.7],[4.13,12.9],[4.3,13.0],[4.46,12.5],[4.63,12.0],[4.79,11.5],[4.95,11.4],[5.12,11.7],[5.28,11.5],[5.4,12.2],[5.53,11.3],[5.69,11.5],[5.86,11.8],[6.1,11.6],[6.35,11.8],[6.6,11.7],[6.76,12.0],[6.92,11.4],[7.17,11.0],[7.41,10.7],[7.66,10.9],[7.9,10.6],[8.07,10.2],[8.32,10.4],[8.65,10.5],[8.97,10.4],[9.3,10.3],[9.63,10.2],[9.96,9.9],[10.29,9.7],[10.53,9.6],[10.78,9.7],[11.11,9.9],[11.44,9.95],[11.76,10.2],[12.01,10.1],[12.25,9.9],[12.58,9.7],[12.85,9.5],[13.08,9.25],[13.3,9.1],[13.57,8.9],[13.8,8.8],[14.06,8.7],[14.4,8.65],[14.72,8.6],[15.05,8.55],[15.37,8.5],[15.7,8.45],[16.03,8.4],[16.35,8.3],[16.69,8.15],[17.0,8.2],[17.35,8.2],[17.7,8.25],[18.0,8.3],[18.3,8.2],[18.65,8.25],[19.0,8.35],[19.31,8.4],[19.65,8.4],[19.97,8.43],[20.3,8.35],[20.63,8.3],[20.95,8.25],[21.28,8.2],[21.6,8.1],[21.94,8.05],[22.25,8.0],[22.6,8.0],[22.9,7.95],[23.25,8.0],[23.55,7.9],[23.9,8.0],[24.4,7.95],[25,8.0]];
var dHOOH = [[0,0],[1.6,0],[1.72,0.6],[1.84,2.5],[1.95,6],[2.05,8.5],[2.17,10.5],[2.25,12.1],[2.35,11.8],[2.44,11.2],[2.54,10.5],[2.66,8.8],[2.77,7.5],[2.9,7.1],[3.03,5.8],[3.15,4.5],[3.31,4.3],[3.48,4.6],[3.64,4.2],[3.76,4.0],[3.89,4.9],[4.02,4.9],[4.13,4.2],[4.3,4.6],[4.46,4.4],[4.63,4.8],[4.79,4.5],[4.9,5.0],[5.04,5.6],[5.2,5.1],[5.45,5.5],[5.69,5.3],[5.94,5.1],[6.1,5.3],[6.27,5.6],[6.38,5.8],[6.55,5.1],[6.76,4.6],[7.0,3.9],[7.25,3.8],[7.5,3.6],[7.74,3.8],[7.99,3.6],[8.32,3.7],[8.65,3.9],[8.97,3.8],[9.3,3.9],[9.63,4.0],[9.79,4.1],[10.12,3.8],[10.45,4.0],[10.78,3.9],[11.11,3.6],[11.44,3.45],[11.76,3.45],[12.09,3.6],[12.35,3.55],[12.58,3.6],[12.85,3.7],[13.08,3.65],[13.3,3.55],[13.57,3.6],[13.8,3.7],[14.06,3.65],[14.4,3.6],[14.72,3.55],[15.05,3.5],[15.37,3.45],[15.7,3.3],[16.03,3.2],[16.35,3.15],[16.69,3.05],[17.0,2.9],[17.35,2.8],[17.7,2.75],[18.0,2.7],[18.3,2.75],[18.65,2.7],[19.0,2.75],[19.31,2.7],[19.65,2.65],[19.97,2.7],[20.3,2.75],[20.63,2.7],[20.95,2.65],[21.28,2.7],[21.6,2.7],[21.94,2.65],[22.25,2.6],[22.6,2.65],[22.9,2.7],[23.25,2.7],[23.55,2.6],[23.9,2.65],[24.4,2.6],[25,2.5]];

var panelData = [
    [aHNO, aHNOH, aHOO, aHOOH],
    [bHNO, bHNOH, bHOO, bHOOH],
    [cHNO, cHNOH, cHOO, cHOOH],
    [dHNO, dHNOH, dHOO, dHOOH]
];

var FONT = '"Liberation Sans", Arial, sans-serif';

// plot boxes
var grids = [
    {left: 71, top: 21, width: 508, height: 372},
    {left: 705, top: 21, width: 508, height: 372},
    {left: 73, top: 517, width: 516, height: 378},
    {left: 721, top: 516, width: 508, height: 372}
];
var lineWidths = [2, 2, 2, 1];
var legendLine = [2, 2, 2, 1.3];
var xNameGap = [42, 42, 43, 45];
var legendPos = [
    {left: 411, top: 68, size: 20, gap: 5, iw: 46},
    {left: 1044, top: 68, size: 20, gap: 5, iw: 46},
    {left: 461, top: 519, size: 18, gap: 5, iw: 41},
    {left: 1075, top: 549, size: 20, gap: 4.5, iw: 44}
];
var tagPos = [[106, 33], [727, 33], [86, 553], [732, 539]];
var titlePos = [[200, 40], [822, 37], [170, 543], [824, 546]];

var dom = document.getElementById('main');
var myChart = echarts.init(dom, null, {renderer: 'canvas'});

var option = {
    animation: false,
    backgroundColor: '#ffffff',
    grid: [],
    xAxis: [],
    yAxis: [],
    title: [],
    legend: [],
    series: []
};

var hidden = {show: false};
var minorStyle = {show: true, splitNumber: 2, length: 3, lineStyle: {color: '#000', width: 1}};

for (var p = 0; p < 4; p++) {
    var g = 2 * p;       // main grid of this panel
    var gOver = 2 * p + 1; // overlay grid (same box) for the inward minor ticks at the bottom
    option.grid.push(grids[p]);
    option.grid.push(grids[p]);

    // bottom + top x axes (bottom: major ticks out)
    option.xAxis.push({
        type: 'value', gridIndex: g, min: 0, max: xMax, interval: 5,
        axisLine: {show: true, lineStyle: {color: '#000', width: 1}},
        axisTick: {show: true, length: 6, lineStyle: {color: '#000', width: 1}},
        minorTick: hidden,
        splitLine: hidden,
        axisLabel: {color: '#000', fontSize: 15, fontFamily: FONT, margin: 10},
        name: 'r/Å', nameLocation: 'middle', nameGap: xNameGap[p],
        nameTextStyle: {color: '#000', fontSize: 18, fontFamily: '"Liberation Serif", "DejaVu Serif", serif'}
    });
    option.xAxis.push({
        type: 'value', gridIndex: g, position: 'top', min: 0, max: xMax, interval: 5,
        axisLine: {show: true, lineStyle: {color: '#000', width: 1}},
        axisTick: {show: true, inside: true, length: 6, lineStyle: {color: '#000'}},
        minorTick: minorStyle,
        splitLine: hidden,
        axisLabel: hidden
    });
    option.xAxis.push({
        type: 'value', gridIndex: gOver, min: 0, max: xMax, interval: 5,
        axisLine: hidden,
        axisTick: {show: false, inside: true},
        minorTick: minorStyle,
        splitLine: hidden,
        axisLabel: hidden
    });
    option.xAxis.push({
        type: 'value', gridIndex: gOver, position: 'top', min: 0, max: xMax, interval: 5,
        show: false
    });

    // left + right y axes
    option.yAxis.push({
        type: 'value', gridIndex: g, min: 0, max: yMax[p], interval: 5,
        axisLine: {show: true, lineStyle: {color: '#000', width: 1}},
        axisTick: {show: true, length: 6, lineStyle: {color: '#000', width: 1}},
        minorTick: minorStyle,
        splitLine: hidden,
        axisLabel: {color: '#000', fontSize: 15, fontFamily: FONT, margin: 12},
        name: 'g(r)', nameLocation: 'middle', nameGap: 37,
        nameTextStyle: {color: '#000', fontSize: 20, fontFamily: FONT}
    });
    option.yAxis.push({
        type: 'value', gridIndex: g, position: 'right', min: 0, max: yMax[p], interval: 5,
        axisLine: {show: true, lineStyle: {color: '#000', width: 1}},
        axisTick: {show: true, inside: true, length: 6, lineStyle: {color: '#000'}},
        minorTick: minorStyle,
        splitLine: hidden,
        axisLabel: hidden
    });
    option.yAxis.push({
        type: 'value', gridIndex: gOver, min: 0, max: yMax[p], interval: 5,
        show: false
    });
    option.yAxis.push({
        type: 'value', gridIndex: gOver, position: 'right', min: 0, max: yMax[p], interval: 5,
        show: false
    });

    option.title.push({
        text: panelTags[p], left: tagPos[p][0], top: tagPos[p][1], padding: 0,
        textStyle: {fontSize: 20, fontWeight: 'normal', color: '#000', fontFamily: FONT}
    });
    option.title.push({
        text: panelTitles[p], left: titlePos[p][0], top: titlePos[p][1], padding: 0,
        textStyle: {fontSize: 20, fontWeight: 'normal', color: '#000', fontFamily: FONT}
    });

    var names = [];
    for (var s = 0; s < 4; s++) {
        var nm = panelTags[p].charAt(0) + ' ' + pairNames[s];
        names.push(nm);
        option.series.push({
            name: nm,
            type: 'line',
            xAxisIndex: 4 * p,
            yAxisIndex: 4 * p,
            data: panelData[p][s],
            symbol: 'none',
            showSymbol: false,
            color: lineColors[s],
            lineStyle: {color: lineColors[s], width: lineWidths[p]},
            z: 10 - s
        });
    }

    var lp = legendPos[p];
    option.legend.push({
        data: names,
        orient: 'vertical',
        left: lp.left,
        top: lp.top,
        padding: [5, 6, 5, 6],
        itemGap: lp.gap,
        itemWidth: lp.iw,
        itemHeight: legendLine[p],
        icon: 'rect',
        borderColor: '#555',
        borderWidth: 1,
        backgroundColor: '#fff',
        selectedMode: false,
        formatter: function (name) { return name.slice(2); },
        textStyle: {fontSize: lp.size, color: '#000', fontFamily: FONT, lineHeight: lp.size}
    });
}

myChart.setOption(option, true);
</script>
</body>
</html>
